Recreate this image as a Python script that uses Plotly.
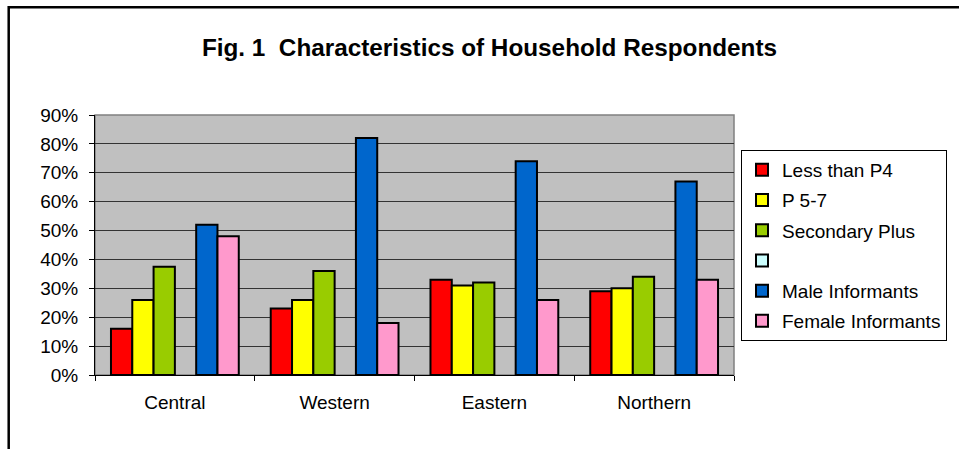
import plotly.graph_objects as go

categories = ["Central", "Western", "Eastern", "Northern"]
less_than_p4 = [16, 23, 33, 29]
p5_7 = [26, 26, 31, 30]
secondary_plus = [37.5, 36, 32, 34]
blank_series = [None, None, None, None]
male_informants = [52, 82, 74, 67]
female_informants = [48, 18, 26, 33]

series_names = ["Less than P4", "P 5-7", "Secondary Plus", " ", "Male Informants", "Female Informants"]
series_values = [less_than_p4, p5_7, secondary_plus, blank_series, male_informants, female_informants]
series_colors = ["#FF0000", "#FFFF00", "#99CC00", "#CCFFFF", "#0066CC", "#FF99CC"]
y_ticks = [0, 10, 20, 30, 40, 50, 60, 70, 80, 90]
y_tick_labels = ["0%", "10%", "20%", "30%", "40%", "50%", "60%", "70%", "80%", "90%"]

FONT = "Liberation Sans, Arial, sans-serif"

fig = go.Figure()
for i, (name, vals, col) in enumerate(zip(series_names, series_values, series_colors)):
    fig.add_trace(go.Bar(
        x=categories, y=vals, name=name,
        marker=dict(color=col, line=dict(color="black", width=2)),
        legendgroup=f"g{i}",
    ))

W, H = 959, 449
L, R, T, B = 95, 225, 115, 74
pw = W - L - R
ph = H - T - B

def px_x(x):
    return (x - L) / pw

def px_y(y):
    return (H - B - y) / ph

fig.update_layout(
    width=W, height=H,
    margin=dict(l=L, r=R, t=T, b=B, pad=0),
    paper_bgcolor="white",
    plot_bgcolor="#C0C0C0",
    barmode="group",
    bargap=0.2,
    bargroupgap=0,
    font=dict(family=FONT, size=19, color="black"),
    title=dict(
        text="<b>Fig. 1\u00a0 Characteristics of Household Respondents</b>",
        x=489.5 / W, xanchor="center",
        y=1 - 47 / H, yanchor="middle",
        xref="container", yref="container",
        font=dict(family=FONT, size=24.3, color="black"),
    ),
    showlegend=True,
    legend=dict(
        x=px_x(741), xanchor="left",
        y=px_y(150), yanchor="top",
        bordercolor="black", borderwidth=1,
        bgcolor="white",
        font=dict(family=FONT, size=19, color="black"),
        tracegroupgap=2.5,
        traceorder="grouped",
    ),
    xaxis=dict(
        type="category",
        showline=True, linecolor="black", linewidth=1,
        ticks="outside", ticklen=5, tickcolor="black",
        tickson="boundaries",
        showgrid=False,
        ticklabelstandoff=10,
    ),
    yaxis=dict(
        range=[0, 90],
        tickmode="array",
        tickvals=y_ticks,
        ticktext=y_tick_labels,
        showline=True, linecolor="black", linewidth=1,
        ticks="outside", ticklen=5, tickcolor="black",
        showgrid=True, gridcolor="#333333", gridwidth=1,
        zeroline=False,
        ticklabelstandoff=7,
    ),
    shapes=[
        dict(type="rect", xref="paper", yref="paper",
             x0=0, x1=1, y0=0, y1=1,
             line=dict(color="#808080", width=1.5), layer="below"),
        dict(type="rect", xref="paper", yref="paper",
             x0=px_x(8.7), x1=px_x(975), y0=px_y(7.2), y1=px_y(470),
             line=dict(color="black", width=2.5), layer="above"),
    ],
)

fig.write_html("out.html", config={"displayModeBar": False},
               post_script="document.body.style.margin='0';")
